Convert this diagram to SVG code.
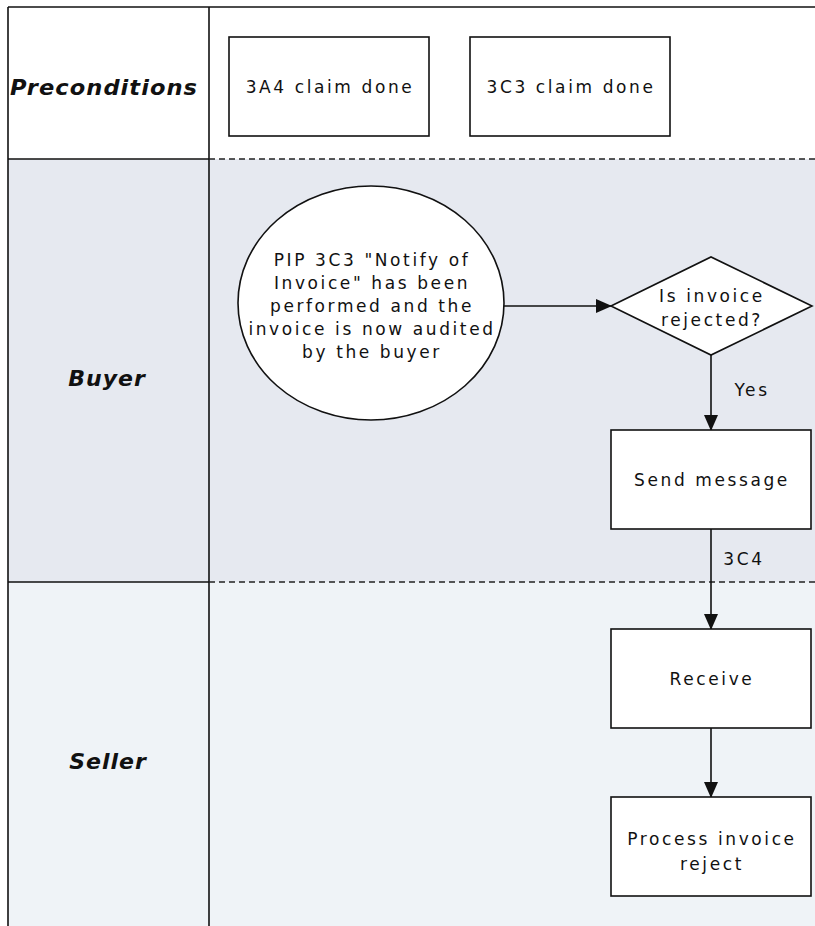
<svg xmlns="http://www.w3.org/2000/svg" width="815" height="926" viewBox="0 0 815 926">
<style>
.lane{font-family:"DejaVu Sans",Verdana,sans-serif;font-weight:bold;font-style:italic;font-size:22px;fill:#111;text-anchor:middle;letter-spacing:1px}
.t{font-family:"DejaVu Sans",Verdana,sans-serif;font-size:17px;fill:#111;text-anchor:middle;letter-spacing:2.6px}
.box{fill:#fff;stroke:#111;stroke-width:1.6}
.ln{stroke:#111;stroke-width:1.6;fill:none}
.dash{stroke:#222;stroke-width:1.5;stroke-dasharray:6 4;fill:none}
</style>
<defs>
<marker id="ah" markerWidth="16" markerHeight="14" refX="15" refY="7" orient="auto" markerUnits="userSpaceOnUse">
<path d="M0,0 L16,7 L0,14 Z" fill="#111"/>
</marker>
</defs>
<g id="lanes">
<rect x="0" y="0" width="815" height="926" fill="#fff"/>
<rect x="8" y="159" width="807" height="423" fill="#e6e9f0"/>
<rect x="8" y="582" width="807" height="344" fill="#eff3f7"/>
<line class="ln" x1="8" y1="7" x2="815" y2="7"/>
<line class="ln" x1="8" y1="7" x2="8" y2="926"/>
<line class="ln" x1="209" y1="7" x2="209" y2="926"/>
<line class="ln" x1="8" y1="159" x2="209" y2="159"/>
<line class="ln" x1="8" y1="582" x2="209" y2="582"/>
<line class="dash" x1="209" y1="159" x2="815" y2="159"/>
<line class="dash" x1="209" y1="582" x2="815" y2="582"/>
<text class="lane" x="104" y="95" textLength="188" lengthAdjust="spacingAndGlyphs">Preconditions</text>
<text class="lane" x="107" y="386">Buyer</text>
<text class="lane" x="108" y="769">Seller</text>
</g>
<g id="connectors">
<line class="ln" x1="504" y1="306" x2="611" y2="306" marker-end="url(#ah)"/>
<line class="ln" x1="711" y1="355" x2="711" y2="430" marker-end="url(#ah)"/>
<text class="t" x="752" y="396">Yes</text>
<line class="ln" x1="711" y1="529" x2="711" y2="629" marker-end="url(#ah)"/>
<text class="t" x="744" y="565">3C4</text>
<line class="ln" x1="711" y1="728" x2="711" y2="797" marker-end="url(#ah)"/>
</g>
<g id="pre1">
<rect class="box" x="229" y="37" width="200" height="99"/>
<text class="t" x="330" y="93">3A4 claim done</text>
</g>
<g id="pre2">
<rect class="box" x="470" y="37" width="200" height="99"/>
<text class="t" x="571" y="93">3C3 claim done</text>
</g>
<g id="start">
<ellipse class="box" cx="371" cy="303" rx="133" ry="117"/>
<text class="t" x="372" y="266">PIP 3C3 "Notify of</text>
<text class="t" x="372" y="289">Invoice" has been</text>
<text class="t" x="372" y="312">performed and the</text>
<text class="t" x="372" y="335">invoice is now audited</text>
<text class="t" x="372" y="358">by the buyer</text>
</g>
<g id="decision">
<polygon class="box" points="611,306 711,257 812,306 711,355"/>
<text class="t" x="712" y="302">Is invoice</text>
<text class="t" x="712" y="326">rejected?</text>
</g>
<g id="send">
<rect class="box" x="611" y="430" width="200" height="99"/>
<text class="t" x="712" y="486">Send message</text>
</g>
<g id="receive">
<rect class="box" x="611" y="629" width="200" height="99"/>
<text class="t" x="712" y="685">Receive</text>
</g>
<g id="process">
<rect class="box" x="611" y="797" width="200" height="99"/>
<text class="t" x="712" y="845">Process invoice</text>
<text class="t" x="712" y="870">reject</text>
</g>
</svg>
